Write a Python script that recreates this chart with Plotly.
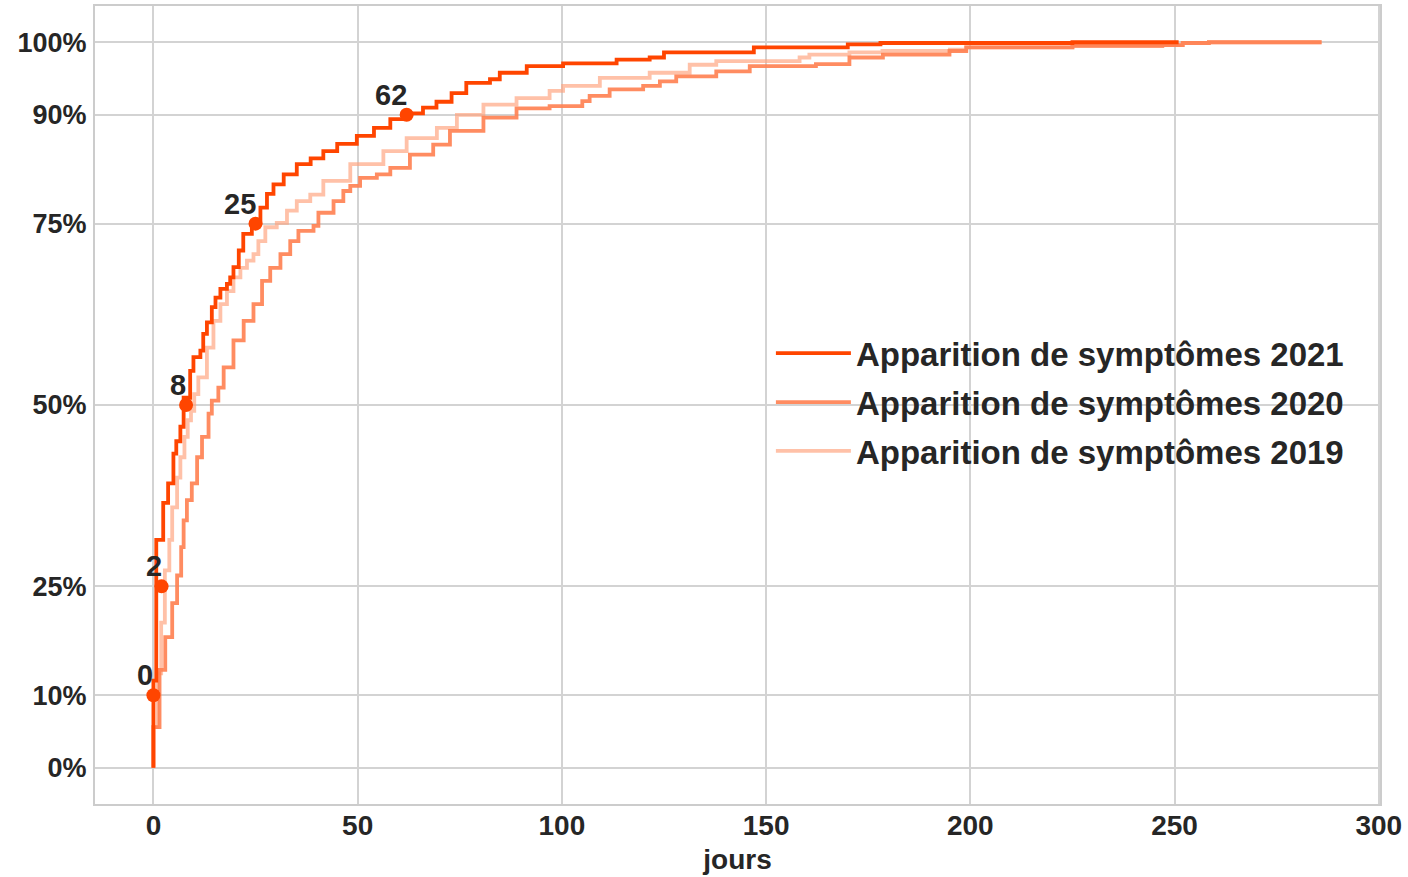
import plotly.graph_objects as go

# ---- data (days since reference, cumulative % of cases) ----
days_2021 = [0, 0, 0.7, 2.4, 3.6, 4.9, 5.6, 6.6, 7.4, 9.0, 9.8, 11.5, 12.2, 13.1, 14.3, 15.2, 16.4,
             18.0, 18.8, 19.6, 20.9, 22.0, 24.1, 26.2, 27.8, 29.4, 31.9, 35.1, 38.5, 41.6, 45.0,
             49.8, 54.0, 58.0, 62.0, 66.0, 69.3, 73.0, 76.6, 82.4, 84.8, 91.4, 100.3, 113.4,
             121.5, 125.0, 147.0, 170.0, 178.0, 225.0, 251.0]
pct_2021 = [0, 12, 31.4, 36.5, 39.2, 43.3, 45.0, 47.0, 51.0, 54.7, 56.6, 57.5, 59.8, 61.4, 63.5,
            64.8, 66.0, 66.7, 67.6, 69.0, 71.3, 73.6, 75.1, 77.2, 79.1, 80.4, 81.8, 83.2, 84.0,
            85.0, 86.0, 87.1, 88.2, 89.4, 90.2, 91.0, 91.8, 93.0, 94.4, 94.9, 95.8, 96.7, 97.1,
            97.6, 97.9, 98.6, 99.3, 99.7, 99.9, 100, 100]

days_2020 = [0, 0, 1.5, 2.9, 4.6, 5.8, 6.8, 7.4, 8.2, 9.4, 10.7, 11.9, 13.5, 14.3, 15.9, 17.2,
             19.6, 22.1, 24.5, 26.6, 28.6, 31.1, 33.5, 35.5, 39.2, 40.4, 44.1, 46.5, 48.2, 50.6,
             54.7, 58.0, 62.8, 68.5, 72.6, 80.8, 88.9, 97.0, 105.0, 106.8, 111.7, 119.9, 124.0,
             128.0, 137.8, 146.0, 162.2, 170.4, 178.6, 194.9, 199.0, 225.0, 247.0, 252.0, 258.4, 286.0]
pct_2020 = [0, 5.6, 13.5, 18.0, 22.7, 26.5, 30.4, 34.1, 36.9, 39.2, 42.8, 45.6, 48.8, 50.6, 52.4,
            55.2, 58.9, 61.6, 63.9, 67.1, 68.9, 70.8, 72.6, 74.0, 74.7, 76.5, 78.1, 79.5, 80.2,
            81.3, 81.8, 82.7, 84.5, 85.9, 87.8, 89.6, 90.9, 91.2, 91.9, 92.6, 93.5, 94.0, 94.6,
            95.3, 96.0, 96.7, 97.0, 97.9, 98.3, 98.8, 99.3, 99.5, 99.6, 99.9, 100, 100]

days_2019 = [0, 0, 1.0, 1.9, 2.8, 3.9, 4.6, 5.8, 6.6, 7.6, 8.4, 9.2, 10.0, 11.0, 13.1, 14.7,
             16.4, 18.0, 19.6, 21.3, 22.9, 24.5, 25.7, 27.4, 30.2, 32.7, 35.1, 38.4, 41.6, 48.2,
             56.3, 62.0, 69.4, 74.3, 80.8, 88.9, 97.0, 100.3, 109.3, 121.5, 131.3, 137.8, 158.2,
             160.6, 170.4, 178.5, 195.0, 199.0, 225.0, 247.0, 252.0, 258.4, 286.0]
pct_2019 = [0, 5.6, 13.0, 20.0, 27.2, 31.4, 35.9, 40.0, 42.8, 45.6, 47.9, 49.2, 51.5, 53.8, 57.9,
            61.6, 63.9, 65.7, 67.6, 68.9, 69.9, 70.8, 72.6, 74.5, 75.1, 76.8, 78.1, 79.0, 80.9,
            83.2, 85.0, 86.8, 88.2, 90.0, 91.4, 92.3, 93.3, 94.0, 95.1, 95.8, 96.9, 97.4, 97.9,
            98.3, 98.6, 98.8, 99.0, 99.3, 99.5, 99.6, 99.9, 100, 100]

quantile_days = [0, 2, 8, 25, 62]
quantile_pct = [10, 25, 50, 75, 90]
quantile_labels = ["0", "2", "8", "25", "62"]

y_tickvals = [0, 10, 25, 50, 75, 90, 100]
y_ticktext = ["0%", "10%", "25%", "50%", "75%", "90%", "100%"]
x_tickvals = [0, 50, 100, 150, 200, 250, 300]

names = ["Apparition de symptômes 2021", "Apparition de symptômes 2020", "Apparition de symptômes 2019"]

TXT = "#262626"
FONT = "Liberation Sans, Arial, sans-serif"

fig = go.Figure()

fig.add_trace(go.Scatter(x=days_2019, y=pct_2019, mode="lines", line_shape="hv",
                         line=dict(color="rgba(255,160,122,0.65)", width=3.8),
                         name=names[2], legendrank=3, legendgroup="c"))
fig.add_trace(go.Scatter(x=days_2020, y=pct_2020, mode="lines", line_shape="hv",
                         line=dict(color="rgba(255,127,80,0.9)", width=3.8),
                         name=names[1], legendrank=2, legendgroup="b"))
fig.add_trace(go.Scatter(x=days_2021, y=pct_2021, mode="lines", line_shape="hv",
                         line=dict(color="#ff4500", width=3.8),
                         name=names[0], legendrank=1, legendgroup="a"))
fig.add_trace(go.Scatter(x=quantile_days, y=quantile_pct, mode="markers",
                         marker=dict(color="#ff4500", size=14),
                         showlegend=False))

for d, p, lab in zip(quantile_days, quantile_pct, quantile_labels):
    fig.add_annotation(x=d, y=p, text="<b>%s</b>" % lab, showarrow=False,
                       xanchor="right", yanchor="bottom", xshift=2, yshift=2,
                       font=dict(family=FONT, size=29, color=TXT))

fig.update_layout(
    width=1408, height=877,
    margin=dict(l=95, r=28, t=4, b=73),
    paper_bgcolor="white", plot_bgcolor="white",
    font=dict(family=FONT, color=TXT),
    showlegend=True,
    legend=dict(x=0.526, y=0.60, xanchor="left", yanchor="top",
                bgcolor="rgba(0,0,0,0)", traceorder="grouped",
                tracegroupgap=3, itemwidth=75,
                font=dict(family=FONT, size=33, color=TXT, weight="bold")),
)

fig.update_xaxes(range=[-14.3, 300.3], tickvals=x_tickvals, ticks="",
                 ticklabelstandoff=-5,
                 tickfont=dict(family=FONT, size=28, color=TXT, weight="bold"),
                 showgrid=True, gridcolor="#d3d3d3", gridwidth=1.5, zeroline=False,
                 showline=True, linecolor="#cccccc", linewidth=2, mirror=True,
                 title=dict(text="jours", standoff=10,
                            font=dict(family=FONT, size=28, color=TXT, weight="bold")))
fig.update_yaxes(range=[-5, 105], tickvals=y_tickvals, ticktext=y_ticktext, ticks="",
                 ticklabelstandoff=1,
                 tickfont=dict(family=FONT, size=27, color=TXT, weight="bold"),
                 showgrid=True, gridcolor="#d3d3d3", gridwidth=1.5, zeroline=False,
                 showline=True, linecolor="#cccccc", linewidth=2, mirror=True)

fig.write_html("out.html", config={"displayModeBar": False},
               post_script="document.body.style.margin='0';document.body.style.overflow='hidden';")
